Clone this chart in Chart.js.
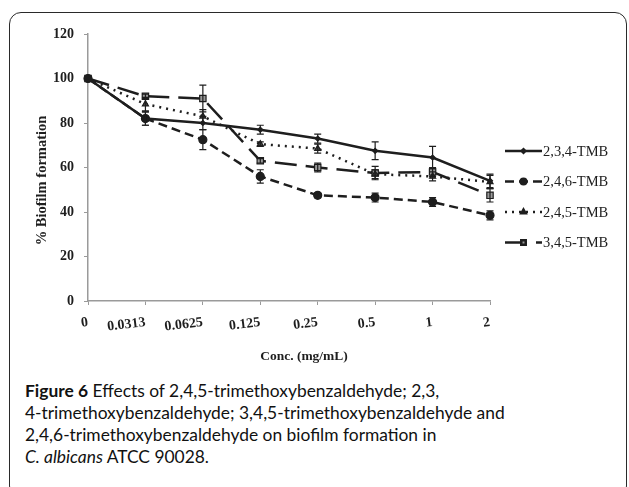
<!DOCTYPE html>
<html>
<head>
<meta charset="utf-8">
<script src="https://cdn.jsdelivr.net/npm/chart.js@4.4.1/dist/chart.umd.min.js"></script>
<style>
  html, body { margin: 0; padding: 0; background: #fff; width: 629px; height: 487px; overflow: hidden; }
  .frame { position: absolute; left: 9px; top: 12px; width: 616px; height: 484px; border: 1.5px solid #2a2a2a; border-radius: 12px; }
  .chart-box { position: absolute; left: 0; top: 0; width: 629px; height: 375px; }
  .caption { position: absolute; left: 25px; top: 380px; font-family: Lato, "Open Sans", sans-serif; font-size: 17.4px; line-height: 22px; color: #111; white-space: nowrap; }
  .caption b { font-weight: bold; }
</style>
</head>
<body>
<div class="frame"></div>
<div class="chart-box"><canvas id="biofilmChart" width="629" height="375"></canvas></div>
<div class="caption">
  <b>Figure 6</b> Effects of 2,4,5-trimethoxybenzaldehyde; 2,3,<br>
  4-trimethoxybenzaldehyde; 3,4,5-trimethoxybenzaldehyde and<br>
  2,4,6-trimethoxybenzaldehyde on biofilm formation in<br>
  <i>C. albicans</i> ATCC 90028.
</div>
<script>
// concentrations (mg/mL)
const concLabels = ['0', '0.0313', '0.0625', '0.125', '0.25', '0.5', '1', '2'];
const yTicks = [0, 20, 40, 60, 80, 100, 120];

// % biofilm formation
const tmb234 = [100, 82, 80, 77, 73, 67.5, 64.5, 54];
const tmb246 = [100, 82, 72.5, 56, 47.5, 46.5, 44.5, 38.5];
const tmb245 = [100, 88.5, 83, 70.5, 68.5, 57, 56, 53.5];
const tmb345 = [100, 92, 91, 63, 60, 57.5, 58, 47.5];

// error bars (+/-)
const err234 = [0, 3, 3, 2, 2, 4, 5, 3];
const err246 = [0, 3, 4.5, 3, 1, 2, 2, 2];
const err245 = [0, 3, 3, 1, 2, 2, 2, 3];
const err345 = [0, 1, 6, 1, 2, 3, 2, 3];

const seriesNames = ['2,3,4-TMB', '2,4,6-TMB', '2,4,5-TMB', '3,4,5-TMB'];

const ink = '#1e1e1e';
const serif = '"Liberation Serif", "DejaVu Serif", serif';

const errorBars = {
  id: 'errorBars',
  afterDatasetsDraw(chart) {
    const ctx = chart.ctx;
    const y = chart.scales.y;
    ctx.save();
    ctx.strokeStyle = ink;
    ctx.lineWidth = 1.2;
    chart.data.datasets.forEach((ds, i) => {
      const meta = chart.getDatasetMeta(i);
      meta.data.forEach((pt, j) => {
        const e = ds.errors[j];
        if (!e) return;
        const top = y.getPixelForValue(ds.data[j] + e);
        const bot = y.getPixelForValue(ds.data[j] - e);
        ctx.beginPath();
        ctx.moveTo(pt.x, top); ctx.lineTo(pt.x, bot);
        ctx.moveTo(pt.x - 3.5, top); ctx.lineTo(pt.x + 3.5, top);
        ctx.moveTo(pt.x - 3.5, bot); ctx.lineTo(pt.x + 3.5, bot);
        ctx.stroke();
      });
    });
    ctx.restore();
  }
};

// legend on the right + axis titles
const sideLegend = {
  id: 'sideLegend',
  afterDraw(chart) {
    const ctx = chart.ctx;
    const area = chart.chartArea;
    ctx.save();
    chart.data.datasets.forEach((ds, i) => {
      const ly = 151 + i * 30.5;
      ctx.strokeStyle = ds.borderColor;
      ctx.lineWidth = ds.borderWidth;
      ctx.setLineDash(ds.borderDash || []);
      ctx.beginPath();
      ctx.moveTo(505, ly); ctx.lineTo(542, ly);
      ctx.stroke();
      ctx.setLineDash([]);
      ctx.fillStyle = ds.pointBackgroundColor;
      ctx.strokeStyle = ds.pointBorderColor;
      Chart.helpers.drawPoint(ctx, {
        pointStyle: ds.pointStyle, radius: ds.pointRadius * 0.7,
        rotation: 0, borderWidth: ds.pointBorderWidth
      }, 523.5, ly);
      ctx.fillStyle = ink;
      ctx.font = '14.5px ' + serif;
      ctx.textAlign = 'left';
      ctx.textBaseline = 'middle';
      ctx.fillText(ds.label, 543, ly + 1);
    });

    ctx.fillStyle = ink;
    ctx.font = 'bold 13.5px ' + serif;
    ctx.textAlign = 'center';
    ctx.textBaseline = 'middle';
    ctx.fillText('Conc. (mg/mL)', area.left + (area.right - area.left) / 2 + 15, 357);
    ctx.font = 'bold 14.5px ' + serif;
    ctx.translate(42, area.top + (area.bottom - area.top) / 2 + 13);
    ctx.rotate(-Math.PI / 2);
    ctx.fillText('% Biofilm formation', 0, 0);
    ctx.restore();
  }
};

function mk(label, data, errors, dash, style, radius, fill) {
  return {
    label: label,
    data: data,
    errors: errors,
    borderColor: ink,
    borderWidth: 2.5,
    borderDash: dash,
    pointStyle: style,
    pointRadius: radius,
    pointBackgroundColor: fill,
    pointBorderColor: ink,
    pointBorderWidth: 1.2,
    tension: 0,
    fill: false
  };
}

new Chart(document.getElementById('biofilmChart'), {
  type: 'line',
  data: {
    labels: concLabels,
    datasets: [
      mk(seriesNames[0], tmb234, err234, [], 'rectRot', 2.5, ink),
      mk(seriesNames[1], tmb246, err246, [9, 5], 'circle', 4, ink),
      mk(seriesNames[2], tmb245, err245, [2, 5], 'triangle', 3.5, '#444'),
      mk(seriesNames[3], tmb345, err345, [22, 9], 'rect', 4.5, '#9a9a9a')
    ]
  },
  options: {
    responsive: false,
    animation: false,
    layout: { padding: { top: 34, right: 139, bottom: 0, left: 0 } },
    plugins: { legend: { display: false }, tooltip: { enabled: false } },
    scales: {
      x: {
        offset: false,
        afterFit(scale) { scale.height = 74; },
        grid: { drawOnChartArea: false, drawTicks: true, tickLength: 4, color: '#9a9a9a' },
        border: { color: '#9a9a9a', width: 1.5 },
        ticks: { color: ink, font: { family: serif, size: 14, weight: 'bold' }, minRotation: 7, maxRotation: 7, padding: 9, autoSkip: false }
      },
      y: {
        min: 0, max: 120,
        afterFit(scale) { scale.width = 88; },
        afterBuildTicks(scale) { scale.ticks = yTicks.map(v => ({ value: v })); },
        grid: { drawOnChartArea: false, drawTicks: true, tickLength: 4, color: '#9a9a9a' },
        border: { color: '#9a9a9a', width: 1.5 },
        ticks: { color: ink, font: { family: serif, size: 14, weight: 'bold' }, padding: 10 }
      }
    }
  },
  plugins: [errorBars, sideLegend]
});
</script>
</body>
</html>
